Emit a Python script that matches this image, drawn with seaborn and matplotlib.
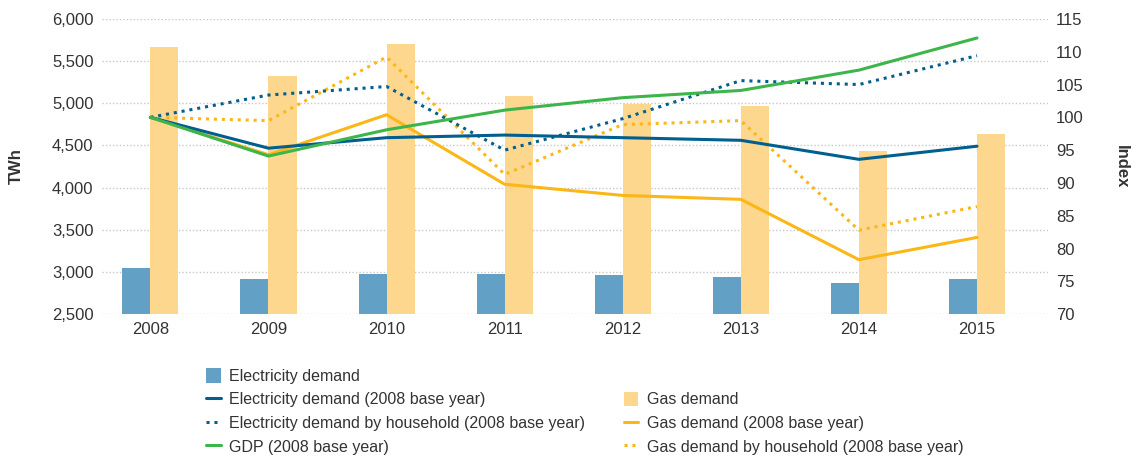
import numpy as np
import pandas as pd
import matplotlib
matplotlib.use("Agg")
import matplotlib.pyplot as plt
from matplotlib.lines import Line2D
from matplotlib.patches import Patch
import seaborn as sns

years = ["2008", "2009", "2010", "2011", "2012", "2013", "2014", "2015"]
elec_demand = [3045, 2920, 2972, 2972, 2970, 2944, 2869, 2920]
gas_demand = [5670, 5321, 5699, 5087, 4988, 4964, 4429, 4639]
elec_index = [100, 95.3, 96.9, 97.3, 96.9, 96.5, 93.6, 95.6]
elec_hh_index = [100, 103.4, 104.7, 95.0, 99.8, 105.6, 105.0, 109.4]
gdp_index = [100, 94.1, 98.1, 101.1, 103.0, 104.1, 107.2, 112.1]
gas_index = [100, 94.3, 100.4, 89.8, 88.1, 87.5, 78.3, 81.7]
gas_hh_index = [100, 99.5, 109.2, 91.3, 98.9, 99.5, 82.8, 86.4]
left_ticks = [2500, 3000, 3500, 4000, 4500, 5000, 5500, 6000]
right_ticks = [70, 75, 80, 85, 90, 95, 100, 105, 110, 115]

C_EBAR = "#62A0C5"
C_GBAR = "#FDD78E"
C_ELINE = "#005F8E"
C_GDP = "#3DB54A"
C_GAS = "#FBB718"
TXT = "#333333"

sns.set_theme(style="white")
plt.rcParams["font.family"] = ["Liberation Sans", "DejaVu Sans"]
plt.rcParams["text.color"] = TXT
plt.rcParams["axes.labelcolor"] = TXT
plt.rcParams["xtick.color"] = TXT
plt.rcParams["ytick.color"] = TXT

fig = plt.figure(figsize=(11.39, 4.62), dpi=100)
ax1 = fig.add_axes([0.0895, 0.32, 0.8305, 0.639])

bars = pd.DataFrame({
    "year": years * 2,
    "value": elec_demand + gas_demand,
    "series": ["Electricity demand"] * len(years) + ["Gas demand"] * len(years),
})
sns.barplot(data=bars, x="year", y="value", hue="series", order=years,
            palette=[C_EBAR, C_GBAR], width=0.475, gap=0, ax=ax1,
            legend=False, saturation=1, bottom=0)
for p in ax1.patches:
    p.set_edgecolor("none")

ax1.set_ylim(2500, 6000)
ax1.set_yticks(left_ticks)
ax1.set_yticklabels([f"{v:,}" for v in left_ticks])
ax1.set_xlim(-0.41, 7.6)
ax1.set_xlabel("")
ax1.set_ylabel("TWh", fontsize=12, fontweight="bold", labelpad=20)
ax1.yaxis.grid(True, linestyle=(0, (1, 1.5)), color="#C8C8C8", linewidth=1)
ax1.set_axisbelow(True)
for s in ax1.spines.values():
    s.set_visible(False)
ax1.tick_params(axis="both", length=0, labelsize=12, pad=6)

ax2 = ax1.twinx()
pos = np.arange(len(years))
specs = [
    (elec_index, C_ELINE, "-"),
    (elec_hh_index, C_ELINE, (0, (1, 1.6))),
    (gdp_index, C_GDP, "-"),
    (gas_index, C_GAS, "-"),
    (gas_hh_index, C_GAS, (0, (1, 1.6))),
]
order_draw = [3, 4, 1, 0, 2]
for i in order_draw:
    vals, col, ls = specs[i]
    sns.lineplot(x=pos, y=vals, color=col, linestyle=ls, linewidth=2.2, ax=ax2)
ax2.set_ylim(70, 115)
ax2.set_yticks(right_ticks)
ax2.set_xlim(-0.41, 7.6)
ax2.set_ylabel("Index", fontsize=12, fontweight="bold", rotation=-90, labelpad=32)
for s in ax2.spines.values():
    s.set_visible(False)
ax2.tick_params(axis="both", length=0, labelsize=12, pad=6)
ax2.grid(False)

handles = [
    Patch(facecolor=C_EBAR, edgecolor="none"),
    Line2D([], [], color=C_ELINE, lw=2.2),
    Line2D([], [], color=C_ELINE, lw=2.2, linestyle=(0, (1, 1.6))),
    Line2D([], [], color=C_GDP, lw=2.2),
    Line2D([], [], color="none"),
    Patch(facecolor=C_GBAR, edgecolor="none"),
    Line2D([], [], color=C_GAS, lw=2.2),
    Line2D([], [], color=C_GAS, lw=2.2, linestyle=(0, (1, 1.6))),
]
labels = [
    "Electricity demand",
    "Electricity demand (2008 base year)",
    "Electricity demand by household (2008 base year)",
    "GDP (2008 base year)",
    "",
    "Gas demand",
    "Gas demand (2008 base year)",
    "Gas demand by household (2008 base year)",
]
leg = fig.legend(handles, labels, ncol=2, loc="upper left",
                 bbox_to_anchor=(0.181, 0.203), frameon=False, fontsize=11.5,
                 handlelength=0.9, handleheight=1.0, handletextpad=0.55,
                 columnspacing=2.4, labelspacing=0.5, borderaxespad=0, borderpad=0)

fig.savefig("out.png", dpi=100)
